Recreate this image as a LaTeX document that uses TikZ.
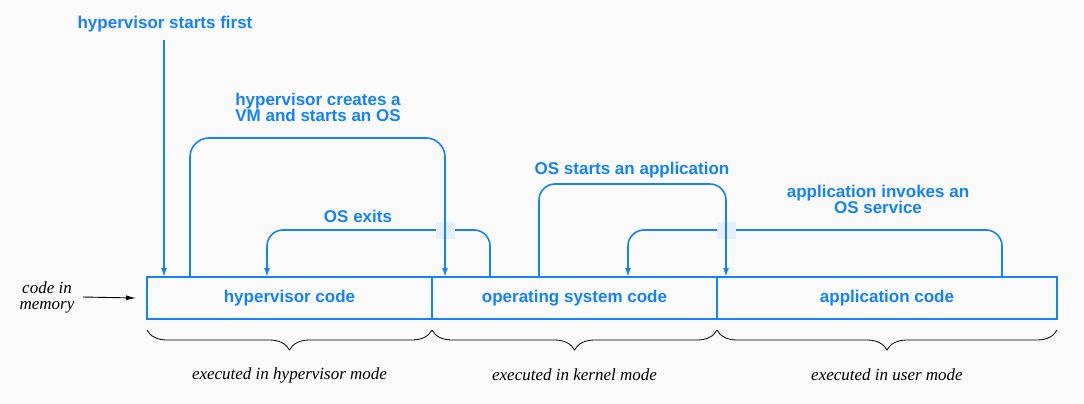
\documentclass[tikz,border=0pt]{standalone}
\usepackage{fontspec}
\setmainfont{Liberation Serif}
\setsansfont{Liberation Sans}
\usetikzlibrary{arrows.meta,decorations.pathreplacing,calc}
\definecolor{hblue}{RGB}{20,130,250}
\definecolor{bgc}{RGB}{250,250,250}
\definecolor{gapblue}{RGB}{230,240,253}
\begin{document}
\begin{tikzpicture}[x=1pt,y=-1pt,
  lbl/.style={font=\sffamily\bfseries\fontsize{17}{16}\selectfont, text=hblue, align=center, inner sep=0pt},
  memo/.style={lbl, draw=hblue, line width=1.6pt, minimum height=42pt, inner sep=0pt, outer sep=0pt},
  flow/.style={draw=hblue, line width=1.6pt, rounded corners=16pt},
  tip/.style={-{Latex[length=9pt,width=6pt]}},
  note/.style={font=\itshape\fontsize{17}{16}\selectfont, inner sep=0pt, align=center},
  brc/.style={decorate, decoration={brace, amplitude=20pt, mirror}, line width=0.8pt},
  gapsq/.style={fill=gapblue, draw=none, minimum width=19pt, minimum height=17pt, inner sep=0pt}
]
\fill[bgc] (0,0) rectangle (1084,404);
\useasboundingbox (0,0) rectangle (1084,404);

% memory boxes
\node[memo, minimum width=285pt] (hv) at (289.5,298) {\raisebox{-1.5pt}{hypervisor code}};
\node[memo, minimum width=285pt] (os) at (574.5,298) {\raisebox{-1.5pt}{operating system code}};
\node[memo, minimum width=340pt] (app) at (887,298) {\raisebox{-1.5pt}{application code}};

% left label
\node[note] (cim) at (47,297) {code in\\memory};
\draw[-{Latex[length=10pt,width=5pt]}, line width=0.9pt] ([xshift=8pt]cim.east) -- ([xshift=-11pt]hv.west);

% hypervisor starts first
\node[lbl] (t1) at (165,24.5) {hypervisor starts first};
\coordinate (t1a) at (164,40);
\draw[flow,tip] (t1a) -- (t1a |- hv.north);

% OS exits (drawn first, under crossing)
\node[lbl] (t3) at (358,216.5) {OS exits};
\draw[flow,tip] ([xshift=58pt]os.north west) |- ($(hv.north west)+(120,-47)$) -- ([xshift=120pt]hv.north west);
\node[gapsq] (g1) at (445.5,230.5) {};

% hypervisor creates a VM
\node[lbl] (t2) at (318,107.5) {hypervisor creates a\\VM and starts an OS};
\draw[flow,tip,rounded corners=19pt] ([xshift=43pt]hv.north west) |- ($(os.north west)+(13,-139)$) -- ([xshift=13pt]os.north west);

% application invokes an OS service (under crossing)
\node[lbl] (t5) at (878,199.5) {application invokes an\\OS service};
\draw[flow,tip] ([xshift=285pt]app.north west) |- ($(os.north west)+(196,-47)$) -- ([xshift=196pt]os.north west);
\node[gapsq] (g2) at (726.5,230.5) {};

% OS starts an application
\node[lbl] (t4) at (632,170.5) {OS starts an application};
\draw[flow,tip] ([xshift=107pt]os.north west) |- ($(app.north west)+(9,-93)$) -- ([xshift=9pt]app.north west);

% braces
\draw[brc] ([yshift=-11pt]hv.south west) -- ([yshift=-11pt]hv.south east);
\draw[brc] ([yshift=-11pt]os.south west) -- ([yshift=-11pt]os.south east);
\draw[brc] ([yshift=-11pt]app.south west) -- ([yshift=-11pt]app.south east);
\node[note] (m1) at ($(hv.south)+(0,56)$) {executed in hypervisor mode};
\node[note] (m2) at ($(os.south)+(0,56)$) {executed in kernel mode};
\node[note] (m3) at ($(app.south)+(0,56)$) {executed in user mode};
\end{tikzpicture}
\end{document}
